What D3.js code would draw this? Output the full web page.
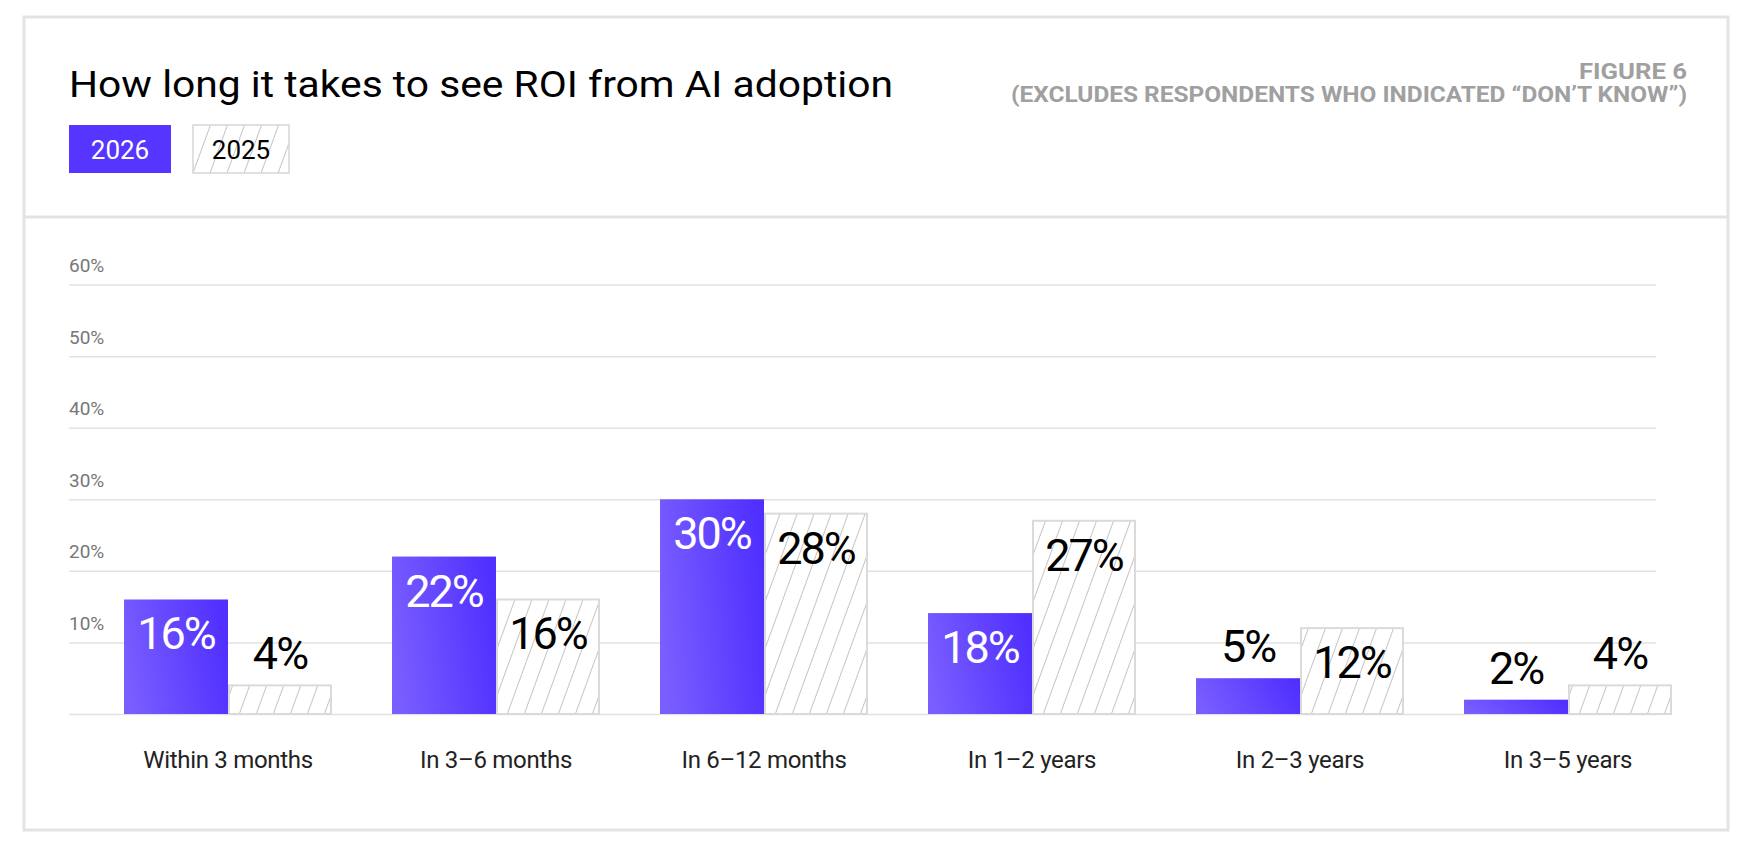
<!DOCTYPE html>
<html>
<head>
<meta charset="utf-8">
<script src="https://cdn.jsdelivr.net/npm/d3@7"></script>
<style>
  body { margin: 0; background: #fff; }
  text { font-family: Roboto, "Liberation Sans", sans-serif; }
</style>
</head>
<body>
<div id="svgContainer"></div>
<script>
const width = 1750;
const height = 854;

// data
const categories = ["Within 3 months", "In 3–6 months", "In 6–12 months", "In 1–2 years", "In 2–3 years", "In 3–5 years"];
const years = ["2026", "2025"];
// bar heights as drawn (the 1–2 years bar for 2026 is drawn shorter than its label says)
const values2026 = [16, 22, 30, 14.1, 5, 2];
const values2025 = [4, 16, 28, 27, 12, 4];
// printed labels
const labels2026 = ["16%", "22%", "30%", "18%", "5%", "2%"];
const labels2025 = ["4%", "16%", "28%", "27%", "12%", "4%"];
const yTicks = [0, 10, 20, 30, 40, 50, 60];

const frame = ({left: 24, top: 17, right: 1728, bottom: 830, header: 217});
const plot = ({left: 69, right: 1656, top: 284.6, bottom: 714});

const svg = d3.select("#svgContainer").append("svg")
  .attr("width", width)
  .attr("height", height)

const defs = svg.append("defs");

const grad = defs.append("linearGradient")
  .attr("id", "purple")
  .attr("x1", 0).attr("y1", 0.6)
  .attr("x2", 1).attr("y2", 0.4);
grad.append("stop").attr("offset", "0%").attr("stop-color", "#7a5eff");
grad.append("stop").attr("offset", "100%").attr("stop-color", "#5030ff");

const hatch = defs.append("pattern")
  .attr("id", "hatch")
  .attr("patternUnits", "userSpaceOnUse")
  .attr("width", 16)
  .attr("height", 16)
  .attr("patternTransform", "rotate(20)");
hatch.append("rect").attr("width", 16).attr("height", 16).attr("fill", "#fff");
hatch.append("line")
  .attr("x1", 0).attr("y1", 0).attr("x2", 0).attr("y2", 16)
  .attr("stroke", "#8c8c8c")
  .attr("stroke-width", 1);

// outer frame + header divider
svg.append("rect")
  .attr("x", frame.left).attr("y", frame.top)
  .attr("width", frame.right - frame.left)
  .attr("height", frame.bottom - frame.top)
  .attr("fill", "none")
  .attr("stroke", "#e3e3e3")
  .attr("stroke-width", 3);

svg.append("line")
  .attr("x1", frame.left).attr("x2", frame.right)
  .attr("y1", frame.header).attr("y2", frame.header)
  .attr("stroke", "#e3e3e3")
  .attr("stroke-width", 3);

svg.append("text")
  .attr("x", 69).attr("y", 97)
  .attr("font-size", 36)
  .attr("fill", "#000")
  .attr("textLength", 824)
  .attr("lengthAdjust", "spacingAndGlyphs")
  .text("How long it takes to see ROI from AI adoption");

svg.append("text")
  .attr("x", 1687).attr("y", 79)
  .attr("text-anchor", "end")
  .attr("font-size", 22)
  .attr("font-weight", 700)
  .attr("fill", "#a0a0a0")
  .attr("textLength", 108)
  .attr("lengthAdjust", "spacingAndGlyphs")
  .text("FIGURE 6");

svg.append("text")
  .attr("x", 1687).attr("y", 102)
  .attr("text-anchor", "end")
  .attr("font-size", 22)
  .attr("font-weight", 700)
  .attr("fill", "#a0a0a0")
  .attr("textLength", 676)
  .attr("lengthAdjust", "spacingAndGlyphs")
  .text("(EXCLUDES RESPONDENTS WHO INDICATED “DON’T KNOW”)");

// legend
const legend = svg.append("g");
const legendItems = [
  {year: years[0], x: 69, w: 102, fill: "#5535ff", stroke: "none", color: "#fff"},
  {year: years[1], x: 193, w: 96, fill: "url(#hatch)", stroke: "#d6d6d6", color: "#000"}
];
legend.selectAll("rect")
  .data(legendItems)
  .join("rect")
    .attr("x", d => d.x)
    .attr("y", 125)
    .attr("width", d => d.w)
    .attr("height", 48)
    .attr("fill", d => d.fill)
    .attr("stroke", d => d.stroke)
    .attr("stroke-width", 1.5);
legend.selectAll("text")
  .data(legendItems)
  .join("text")
    .attr("x", d => d.x + d.w / 2)
    .attr("y", 159)
    .attr("text-anchor", "middle")
    .attr("font-size", 26)
    .attr("fill", d => d.color)
    .text(d => d.year);

const y = d3.scaleLinear()
  .domain([0, 60])
  .range([plot.bottom, plot.top]);

const x = d3.scaleBand()
  .domain(categories)
  .range([94, 1702])
  .paddingInner(0.224)
  .paddingOuter(0.112);

const xSub = d3.scaleBand()
  .domain(years)
  .range([0, x.bandwidth()]);

const yAxis = g => g
  .attr("transform", `translate(${plot.left},0)`)
  .call(d3.axisLeft(y).tickValues(yTicks).tickSize(-(plot.right - plot.left)).tickFormat(d => d ? d + "%" : ""))
  .call(g => g.select(".domain").remove())
  .call(g => g.selectAll(".tick line")
      .attr("stroke", "#e2e2e2")
      .attr("stroke-width", 1.5))
  .call(g => g.selectAll(".tick text")
      .attr("x", 0)
      .attr("dy", -13)
      .attr("text-anchor", "start")
      .attr("font-size", 19)
      .attr("font-family", "Roboto")
      .attr("fill", "#777"));

svg.append("g").call(yAxis);

const rows = categories.map((c, i) => ({
  cat: c,
  v: {"2026": values2026[i], "2025": values2025[i]},
  l: {"2026": labels2026[i], "2025": labels2025[i]}
}));

const groups = svg.append("g")
  .selectAll("g")
  .data(rows)
  .join("g")
    .attr("transform", d => `translate(${x(d.cat)},0)`);

const bars = groups.selectAll("g")
  .data(d => years.map(yr => ({year: yr, value: d.v[yr], label: d.l[yr]})))
  .join("g");

bars.append("rect")
  .attr("x", d => xSub(d.year) + (d.year === "2025" ? 1 : 0))
  .attr("y", d => y(d.value))
  .attr("width", d => xSub.bandwidth() - (d.year === "2025" ? 2 : 0))
  .attr("height", d => y(0) - y(d.value))
  .attr("fill", d => d.year === "2026" ? "url(#purple)" : "url(#hatch)")
  .attr("stroke", d => d.year === "2026" ? "none" : "#dadada")
  .attr("stroke-width", 2);

// labels go inside the bar when it is tall enough, otherwise above it
bars.append("text")
  .attr("x", d => xSub(d.year) + xSub.bandwidth() / 2)
  .attr("y", d => d.value >= 10 ? y(d.value) + 50 : y(d.value) - 16)
  .attr("text-anchor", "middle")
  .attr("font-size", 45)
  .attr("letter-spacing", -2)
  .attr("fill", d => (d.value >= 10 && d.year === "2026") ? "#fff" : "#000")
  .text(d => d.label);

const xAxis = g => g
  .attr("transform", `translate(0,${plot.bottom})`)
  .call(d3.axisBottom(x).tickSize(0))
  .call(g => g.select(".domain").remove())
  .call(g => g.selectAll(".tick text")
      .attr("y", 54)
      .attr("dy", 0)
      .attr("font-size", 24)
      .attr("font-family", "Roboto")
      .attr("letter-spacing", -0.3)
      .attr("fill", "#222"));

svg.append("g").call(xAxis);
</script>
</body>
</html>
